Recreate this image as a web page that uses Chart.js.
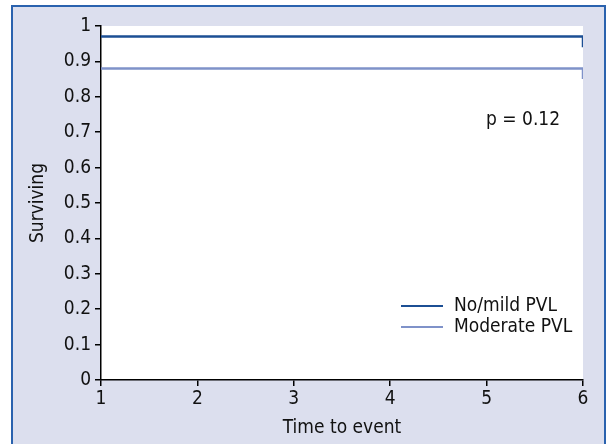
<!DOCTYPE html>
<html>
<head>
<meta charset="utf-8">
<script src="https://cdn.jsdelivr.net/npm/chart.js@4"></script>
<style>
  html, body { margin: 0; padding: 0; background: #fff; }
  #wrap { width: 609px; height: 444px; position: relative; }
</style>
</head>
<body>
<div id="wrap"><canvas id="myChart" width="609" height="444"></canvas></div>
<script>
// survival curves
var timeNoMild = [1, 6, 6];
var survNoMild = [0.97, 0.97, 0.94];
var timeModerate = [1, 6, 6];
var survModerate = [0.88, 0.88, 0.85];
var seriesNames = ['No/mild PVL', 'Moderate PVL'];
var seriesColors = ['#1c4f94', '#7f92c9'];
var pValueText = 'p = 0.12';

var FONT = "'Liberation Sans Narrow', 'DejaVu Sans Condensed', 'Liberation Sans', sans-serif";

function toPoints(xs, ys) {
    return xs.map(function (x, i) { return {x: x, y: ys[i]}; });
}

// frame, lavender panel and white plot area
var backdrop = {
    id: 'backdrop',
    beforeDraw: function (chart) {
        var c = chart.ctx, a = chart.chartArea;
        c.save();
        c.fillStyle = '#dcdfee';
        c.fillRect(12, 6, 593, 450);
        c.strokeStyle = '#2a62ae';
        c.lineWidth = 2;
        c.beginPath();
        c.moveTo(12, 460); c.lineTo(12, 6); c.lineTo(605, 6); c.lineTo(605, 460);
        c.stroke();
        c.fillStyle = '#ffffff';
        c.fillRect(a.left, a.top, a.right - a.left, a.bottom - a.top);
        c.restore();
    }
};

// legend lines and p-value written inside the plot
var notes = {
    id: 'notes',
    afterDraw: function (chart) {
        var c = chart.ctx;
        c.save();
        c.font = '19px ' + FONT;
        c.textBaseline = 'middle';
        c.fillStyle = '#111';
        c.textAlign = 'left';
        c.fillText(pValueText, 486, 120);
        var rows = [306, 327];
        chart.data.datasets.forEach(function (ds, i) {
            c.strokeStyle = ds.borderColor;
            c.lineWidth = 2;
            c.beginPath();
            c.moveTo(401, rows[i]); c.lineTo(443, rows[i]);
            c.stroke();
            c.fillText(ds.label, 454, rows[i]);
        });
        c.restore();
    }
};

var myChart = new Chart(document.getElementById('myChart').getContext('2d'), {
    type: 'line',
    data: {
        datasets: [{
            label: seriesNames[0],
            data: toPoints(timeNoMild, survNoMild),
            borderColor: seriesColors[0],
            borderWidth: 2.5,
            pointRadius: 0,
            fill: false,
            tension: 0
        }, {
            label: seriesNames[1],
            data: toPoints(timeModerate, survModerate),
            borderColor: seriesColors[1],
            borderWidth: 2.5,
            pointRadius: 0,
            fill: false,
            tension: 0
        }]
    },
    plugins: [backdrop, notes],
    options: {
        responsive: false,
        animation: false,
        layout: { padding: { left: 0, top: 26, right: 26, bottom: 0 } },
        plugins: {
            legend: { display: false },
            tooltip: { enabled: false }
        },
        scales: {
            x: {
                type: 'linear',
                min: 1,
                max: 6,
                afterFit: function (s) { s.height = 64; },
                border: { display: true, color: '#000', width: 1.5 },
                grid: { drawOnChartArea: false, drawTicks: true, tickLength: 6, color: '#000', lineWidth: 1.5 },
                ticks: { stepSize: 1, color: '#111', padding: 2, font: { family: FONT, size: 19 } },
                title: { display: true, text: 'Time to event', color: '#111', padding: { top: 0, bottom: 5 }, font: { family: FONT, size: 19 } }
            },
            y: {
                min: 0,
                max: 1,
                afterFit: function (s) { s.width = 101; },
                border: { display: true, color: '#000', width: 1.5 },
                grid: { drawOnChartArea: false, drawTicks: true, tickLength: 6, color: '#000', lineWidth: 1.5 },
                ticks: { stepSize: 0.1, color: '#111', padding: 4, font: { family: FONT, size: 19 },
                         callback: function (v) { return Math.round(v * 10) / 10; } },
                title: { display: true, text: 'Surviving', color: '#111', padding: { top: 27, bottom: 0 }, font: { family: FONT, size: 19 } }
            }
        }
    }
});
</script>
</body>
</html>
